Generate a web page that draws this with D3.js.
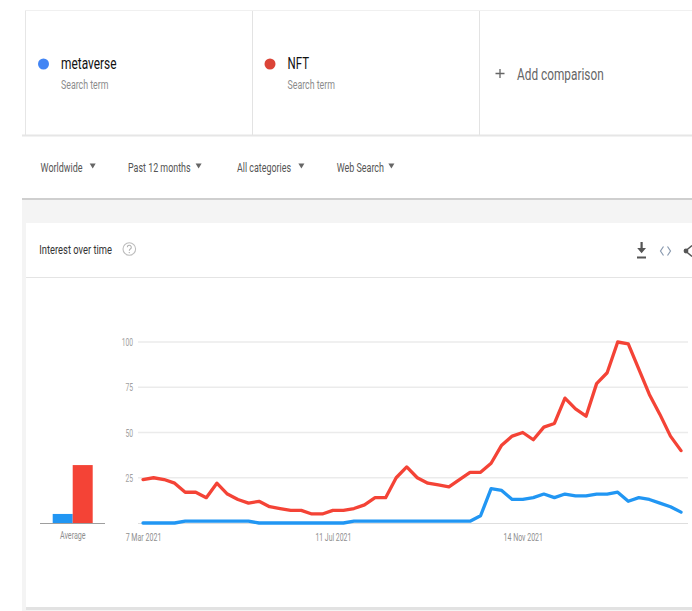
<!DOCTYPE html>
<html>
<head>
<meta charset="utf-8">
<script src="https://cdn.jsdelivr.net/npm/d3@7"></script>
<style>
  html, body { margin: 0; padding: 0; background: #fff; }
  svg { display: block; font-family: Roboto, "Noto Sans", Arial, sans-serif; }
</style>
</head>
<body>
<svg id="page" width="692" height="611"></svg>
<script>
// Weekly interest, 7 Mar 2021 – 27 Feb 2022 (52 weeks)
const startWeek = "2021-03-07";
const metaverse = [0, 0, 0, 0, 1, 1, 1, 1, 1, 1, 1, 0, 0, 0, 0, 0, 0, 0, 0, 0,
                   1, 1, 1, 1, 1, 1, 1, 1, 1, 1, 1, 1, 4, 19, 18, 13, 13, 14, 16, 14,
                   16, 15, 15, 16, 16, 17, 12, 14, 13, 11, 9, 6];
const nft = [24, 25, 24, 22, 17, 17, 14, 22, 16, 13, 11, 12, 9, 8, 7, 7, 5, 5, 7, 7,
             8, 10, 14, 14, 25, 31, 25, 22, 21, 20, 24, 28, 28, 33, 43, 48, 50, 46, 53, 55,
             69, 63, 59, 77, 83, 100, 99, 85, 71, 60, 48, 40];
const termNames = ["metaverse", "NFT"];
const averages = [5, 32];
const yTicks = [25, 50, 75, 100];
const xTickDates = ["2021-03-07", "2021-07-11", "2021-11-14"];
const filters = ["Worldwide", "Past 12 months", "All categories", "Web Search"];

const dotColors = ["#4285f4", "#db4437"];
const lineColors = ["#2196f3", "#f44336"];

const parse = d3.utcParse("%Y-%m-%d");
const t0 = parse(startWeek);
const dates = nft.map((_, i) => d3.utcWeek.offset(t0, i));
const fmt = d3.utcFormat("%-d %b %Y");

const svg = d3.select("#page");

// text helper: fixed rendered width keeps the narrow UI lettering
function label(g, x, y, str, opts) {
  const t = g.append("text")
    .attr("x", x).attr("y", y)
    .attr("font-size", opts.size)
    .attr("fill", opts.color)
    .attr("text-anchor", opts.anchor || "start")
    .text(str);
  if (opts.width) t.attr("textLength", opts.width).attr("lengthAdjust", "spacingAndGlyphs");
  if (opts.weight) t.attr("font-weight", opts.weight);
  return t;
}

// ---------- backgrounds / panels ----------
svg.append("rect").attr("x", 22).attr("y", 199).attr("width", 670).attr("height", 412).attr("fill", "#f4f4f4");
svg.append("rect").attr("x", 26).attr("y", 223).attr("width", 666).attr("height", 384).attr("fill", "#fff");
svg.append("rect").attr("x", 26).attr("y", 607).attr("width", 666).attr("height", 3).attr("fill", "#e2e2e2");

// search-term card
const termCard = svg.append("g");
termCard.append("line").attr("x1", 25.5).attr("x2", 692).attr("y1", 10.5).attr("y2", 10.5).attr("stroke", "#f0f0f0");
termCard.append("line").attr("x1", 25.5).attr("x2", 25.5).attr("y1", 10.5).attr("y2", 135).attr("stroke", "#e6e6e6");
[252.5, 479.5].forEach(x =>
  termCard.append("line").attr("x1", x).attr("x2", x).attr("y1", 11).attr("y2", 135).attr("stroke", "#e3e3e3"));
termCard.append("rect").attr("x", 22).attr("y", 134.5).attr("width", 670).attr("height", 2).attr("fill", "#e6e6e6");

const termX = [43.5, 270];
const nameW = [55.5, 21.5];
termNames.forEach((name, i) => {
  termCard.append("circle").attr("cx", termX[i]).attr("cy", 64).attr("r", 5.5).attr("fill", dotColors[i]);
  label(termCard, termX[i] + 17.5, 68.5, name, { size: 16.5, color: "#111", width: nameW[i] });
  label(termCard, termX[i] + 17.5, 88.5, "Search term", { size: 12, color: "#8c8c8c", width: 47.5 });
});
// add comparison
termCard.append("path").attr("d", "M495.5,73.5h9M500,69v9").attr("stroke", "#666").attr("stroke-width", 1.3);
label(termCard, 517, 80, "Add comparison", { size: 16.5, color: "#666", width: 86.7 });

// filter bar
const fb = svg.append("g");
const fX = [40.6, 128, 237, 336.7];
const fW = [42, 62.6, 54, 47.3];
const aX = [92.7, 198.6, 301.4, 391.4];
filters.forEach((f, i) => {
  label(fb, fX[i], 172, f, { size: 13.5, color: "#555", width: fW[i] });
  fb.append("path").attr("d", `M${aX[i] - 3},163.5h6l-3,5z`).attr("fill", "#666");
});
fb.append("rect").attr("x", 22).attr("y", 198).attr("width", 670).attr("height", 2).attr("fill", "#cfcfcf");

// ---------- chart card header ----------
const hd = svg.append("g");
label(hd, 39.3, 253.5, "Interest over time", { size: 13, color: "#333", width: 72.7 });
// help icon: ring with a question-mark glyph drawn as a path
hd.append("circle").attr("cx", 129.3).attr("cy", 249).attr("r", 6.3).attr("fill", "none").attr("stroke", "#bdbdbd").attr("stroke-width", 1.1);
hd.append("path").attr("d", "M127.3,247.3a2,2 0 1 1 3,1.7c-0.8,0.5 -1,0.9 -1,1.8")
  .attr("fill", "none").attr("stroke", "#b0b0b0").attr("stroke-width", 1.1);
hd.append("circle").attr("cx", 129.3).attr("cy", 252.6).attr("r", 0.7).attr("fill", "#b0b0b0");
hd.append("line").attr("x1", 26).attr("x2", 692).attr("y1", 277.5).attr("y2", 277.5).attr("stroke", "#e4e4e4");
// download icon
hd.append("path").attr("d", "M640.5,242h2.2v6h3.3l-4.4,5.2l-4.4,-5.2h3.3z").attr("fill", "#555");
hd.append("rect").attr("x", 637).attr("y", 256.5).attr("width", 9).attr("height", 2).attr("fill", "#555");
// embed icon
hd.append("path").attr("d", "M663.5,246.5l-3,4.5l3,4.5M667.5,246.5l3,4.5l-3,4.5")
  .attr("fill", "none").attr("stroke", "#8a9ab0").attr("stroke-width", 1.2);
// share icon (clipped at the window edge)
hd.append("path").attr("d", "M692,245.5l-6.5,5.5l6.5,5.5").attr("fill", "none").attr("stroke", "#555").attr("stroke-width", 1.4);
hd.append("circle").attr("cx", 686).attr("cy", 251).attr("r", 2.4).attr("fill", "#555");

// ---------- main chart ----------
const x = d3.scaleUtc().domain([dates[0], dates[dates.length - 1]]).range([143, 681]);
const y = d3.scaleLinear().domain([0, 100]).range([523, 342]);

const grid = svg.append("g");
grid.selectAll("line").data(yTicks).join("line")
  .attr("x1", 138).attr("x2", 688)
  .attr("y1", d => y(d)).attr("y2", d => y(d))
  .attr("stroke", "#ebebeb").attr("stroke-width", 1.5);
grid.append("line").attr("x1", 138).attr("x2", 688).attr("y1", y(0) + 0.5).attr("y2", y(0) + 0.5)
  .attr("stroke", "#dedede").attr("stroke-width", 1.2);

const yAxis = svg.append("g").attr("transform", "translate(133,0)")
  .call(d3.axisLeft(y).tickValues(yTicks).tickSize(0).tickPadding(0));
yAxis.select(".domain").remove();
yAxis.selectAll("text").attr("fill", "#a0a0a0").attr("font-size", 11).attr("font-family", "Roboto, sans-serif")
  .attr("textLength", d => d === 100 ? 11.3 : 7.6).attr("lengthAdjust", "spacingAndGlyphs");

const xAxis = svg.append("g").attr("transform", `translate(0,${y(0)})`)
  .call(d3.axisBottom(x).tickValues(xTickDates.map(parse)).tickFormat(fmt).tickSize(0).tickPadding(10));
xAxis.select(".domain").remove();
xAxis.selectAll("text").attr("fill", "#8f8f8f").attr("font-size", 11).attr("font-family", "Roboto, sans-serif")
  .attr("textLength", (d, i) => [35.7, 36, 39.4][i]).attr("lengthAdjust", "spacingAndGlyphs");

const line = d3.line().x((d, i) => x(dates[i])).y(d => y(d));
[metaverse, nft].forEach((series, k) => {
  svg.append("path").datum(series).attr("d", line)
    .attr("fill", "none").attr("stroke", lineColors[k]).attr("stroke-width", 3.3)
    .attr("stroke-linejoin", "round").attr("stroke-linecap", "round");
});

// ---------- averages ----------
const bx = d3.scaleBand().domain(termNames).range([52.7, 92.7]).padding(0);
const avg = svg.append("g");
avg.selectAll("rect").data(averages).join("rect")
  .attr("x", (d, i) => bx(termNames[i]))
  .attr("width", bx.bandwidth())
  .attr("y", d => y(d))
  .attr("height", d => y(0) - y(d))
  .attr("fill", (d, i) => lineColors[i]);
avg.append("line").attr("x1", 40).attr("x2", 105).attr("y1", y(0) + 0.5).attr("y2", y(0) + 0.5)
  .attr("stroke", "#9e9e9e").attr("stroke-width", 1);
label(avg, 72.8, 539, "Average", { size: 11, color: "#8f8f8f", anchor: "middle", width: 25.7 });
</script>
</body>
</html>
